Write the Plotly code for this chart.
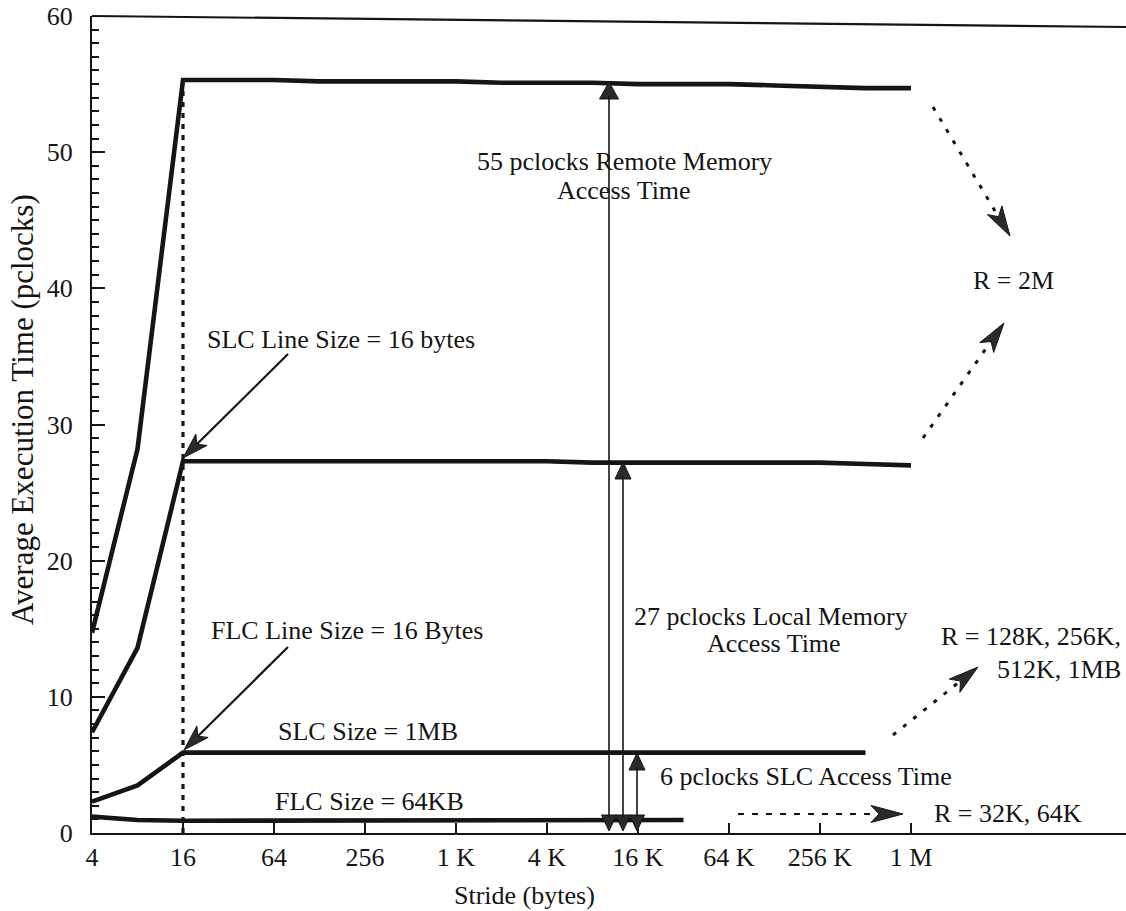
import math
import plotly.graph_objects as go

# ---------------- data ----------------
strides = [4, 8, 16, 32, 64, 128, 256, 512, 1024, 2048, 4096, 8192, 16384,
           32768, 65536, 131072, 262144, 524288, 1048576]
tick_vals = [4, 16, 64, 256, 1024, 4096, 16384, 65536, 262144, 1048576]
tick_text = ["4", "16", "64", "256", "1 K", "4 K", "16 K", "64 K", "256 K", "1 M"]

r_2m_remote = [14.7, 28.2, 55.3, 55.3, 55.3, 55.2, 55.2, 55.2, 55.2, 55.1,
               55.1, 55.1, 55.0, 55.0, 55.0, 54.9, 54.8, 54.7, 54.7]
r_2m_local = [7.4, 13.6, 27.3, 27.3, 27.3, 27.3, 27.3, 27.3, 27.3, 27.3,
              27.3, 27.2, 27.2, 27.2, 27.2, 27.2, 27.2, 27.1, 27.0]
r_128k_1mb = [2.3, 3.5, 5.9, 5.9, 5.9, 5.9, 5.9, 5.9, 5.9, 5.9,
              5.9, 5.9, 5.9, 5.9, 5.9, 5.9, 5.9, 5.9]
r_32k_64k = [1.2, 0.95, 0.9, 0.9, 0.9, 0.9, 0.9, 0.9, 0.9, 0.9,
             0.9, 0.9, 0.9, 0.95]
line_size = 16

# ---------------- layout geometry ----------------
W, H = 1126, 911
L_M, R_M, T_M, B_M = 92, 0, 16, 78
PW, PH = W - L_M - R_M, H - T_M - B_M
X0_PX, Y0_PX = L_M, H - B_M
px_per_oct = 45.5
x_max_log2 = 2 + PW / px_per_oct

INK = "#151515"
FONT = "Liberation Serif"


def P(x, y):
    """pixel -> paper"""
    return (x - X0_PX) / PW, (Y0_PX - y) / PH


fig = go.Figure()

for ys in (r_2m_remote, r_2m_local, r_128k_1mb, r_32k_64k):
    fig.add_trace(go.Scatter(x=strides[:len(ys)], y=ys, mode="lines",
                             line=dict(color=INK, width=4.6),
                             hoverinfo="skip", showlegend=False))

# dotted vertical line at the line size
fig.add_trace(go.Scatter(x=[line_size, line_size], y=[0, max(r_2m_remote) - 0.3],
                         mode="lines", line=dict(color=INK, width=3.2, dash="5px,6px"),
                         hoverinfo="skip", showlegend=False))

shapes = []
annotations = []


def seg(p0, p1, width, dash="solid"):
    a = P(*p0)
    b = P(*p1)
    shapes.append(dict(type="line", xref="paper", yref="paper",
                       x0=a[0], y0=a[1], x1=b[0], y1=b[1],
                       line=dict(color=INK, width=width, dash=dash)))


def head(tip, tail, hl, hw, notch=0.25):
    dx, dy = tip[0] - tail[0], tip[1] - tail[1]
    n = math.hypot(dx, dy)
    ux, uy = dx / n, dy / n
    nx, ny = -uy, ux
    bx, by = tip[0] - hl * ux, tip[1] - hl * uy
    c1 = (bx + hw / 2 * nx, by + hw / 2 * ny)
    c2 = (bx - hw / 2 * nx, by - hw / 2 * ny)
    m = (tip[0] - (1 - notch) * hl * ux, tip[1] - (1 - notch) * hl * uy)
    pts = [P(*tip), P(*c1), P(*m), P(*c2)]
    path = "M" + " L".join(f"{p[0]:.5f},{p[1]:.5f}" for p in pts) + " Z"
    shapes.append(dict(type="path", xref="paper", yref="paper", path=path,
                       fillcolor="#2a2a2a", line=dict(color=INK, width=1)))
    return (tip[0] - (1 - notch) * hl * ux, tip[1] - (1 - notch) * hl * uy)


def arrow(tail, tip, width, dash="solid", hl=26, hw=16, notch=0.25):
    base = head(tip, tail, hl, hw, notch)
    seg(tail, base, width, dash)


# solid pointer arrows
arrow((288, 354), (183, 458), 2.2)
arrow((288, 647), (184, 750), 2.2)

# dotted arrows to R labels
arrow((933, 107), (1010, 236), 3, "4px,9px", hl=30, hw=17)
arrow((923, 438), (1004, 323), 3, "4px,9px", hl=30, hw=17)
arrow((893, 735), (978, 667), 3, "4px,9px", hl=30, hw=17)
arrow((738, 814), (903, 814), 2, "6px,8px", hl=32, hw=17)

# double headed vertical arrows
for x, ytop, hw_top in ((609, 82, 19), (623, 462, 16), (637, 753, 16)):
    head((x, ytop), (x, 830), 17, hw_top, 0)
    head((x, 831), (x, ytop), 16, 15, 0)
    seg((x, ytop + 14), (x, 817), 1.6)

# top border (slightly skewed in the original)
shapes.append(dict(type="line", xref="paper", yref="paper",
                   x0=0, y0=1, x1=1, y1=P(0, 27)[1],
                   line=dict(color=INK, width=2.2)))


def text(s, x, y, anchor="center", size=26, angle=0):
    px, py = P(x, y)
    annotations.append(dict(text=s, x=px, y=py, xref="paper", yref="paper",
                            xanchor=anchor, yanchor="middle", showarrow=False,
                            textangle=angle,
                            font=dict(family=FONT, size=size, color=INK)))


text("55 pclocks Remote Memory", 624, 162)
text("Access Time", 624, 190)
text("SLC Line Size = 16 bytes", 341, 339)
text("FLC Line Size = 16 Bytes", 347, 630)
text("SLC Size = 1MB", 368, 731)
text("FLC Size = 64KB", 369, 801)
text("27 pclocks Local Memory", 771, 616)
text("Access Time", 774, 643)
text("6 pclocks SLC Access Time", 806, 776)
text("R = 2M", 1013, 281)
text("R = 128K, 256K,", 1123, 636, anchor="right")
text("512K, 1MB", 1123, 669, anchor="right")
text("R = 32K, 64K", 1008, 813)
text("Stride (bytes)", 524, 895)
text("Average Execution Time (pclocks)", 22, 410, size=31, angle=-90)

fig.update_layout(
    width=W, height=H,
    margin=dict(l=L_M, r=R_M, t=T_M, b=B_M, pad=0),
    paper_bgcolor="white", plot_bgcolor="white",
    font=dict(family=FONT, size=26, color=INK),
    shapes=shapes, annotations=annotations,
    showlegend=False,
)
fig.update_xaxes(type="log", range=[math.log10(4), x_max_log2 * math.log10(2)],
                 tickvals=tick_vals, ticktext=tick_text,
                 ticks="inside", ticklen=10, tickwidth=1.5, tickcolor=INK,
                 showline=True, linewidth=2.2, linecolor=INK,
                 showgrid=False, zeroline=False,
                 tickfont=dict(family=FONT, size=26, color=INK))
fig.update_yaxes(range=[0, 60], dtick=10, tick0=0,
                 ticks="inside", ticklen=13, tickwidth=1.5, tickcolor=INK,
                 minor=dict(dtick=1, ticks="inside", ticklen=7, tickwidth=1.5,
                            tickcolor=INK, showgrid=False),
                 showline=True, linewidth=2.2, linecolor=INK,
                 showgrid=False, zeroline=False, ticklabelstandoff=12,
                 tickfont=dict(family=FONT, size=26, color=INK))

fig.write_html("out.html")
